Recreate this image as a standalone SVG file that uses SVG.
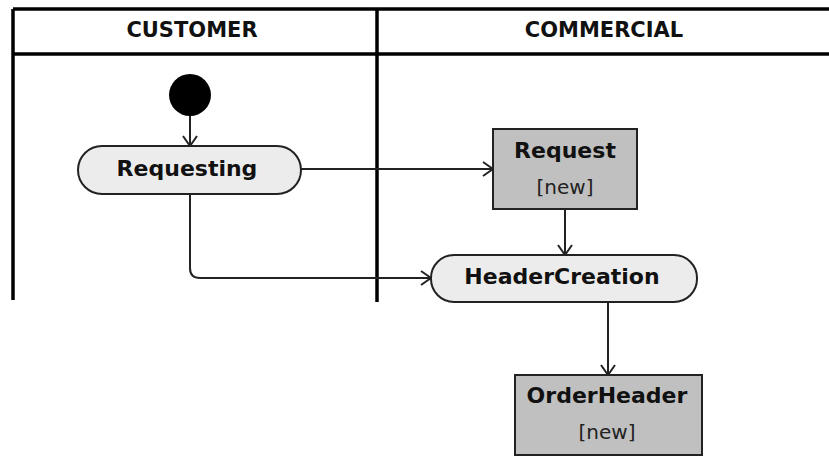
<svg xmlns="http://www.w3.org/2000/svg" width="829" height="472" viewBox="0 0 829 472">
<style>
.lane{fill:none;stroke:#000;stroke-width:3.5}
.hdr{font-family:"DejaVu Sans",Verdana,sans-serif;font-weight:bold;font-size:21px;fill:#111;text-anchor:middle}
.act{fill:#ececec;stroke:#222;stroke-width:2}
.obj{fill:#c0c0c0;stroke:#222;stroke-width:2}
.lbl{font-family:"DejaVu Sans",Verdana,sans-serif;font-weight:bold;font-size:22px;fill:#111;text-anchor:middle}
.st{font-family:"DejaVu Sans",Verdana,sans-serif;font-size:20px;fill:#222;text-anchor:middle}
.edge{fill:none;stroke:#222;stroke-width:2}
</style>
<defs>
<marker id="arr" viewBox="0 0 12 16" refX="11" refY="8" markerWidth="12" markerHeight="16" markerUnits="userSpaceOnUse" orient="auto">
<path d="M1,1 L11,8 L1,15" fill="none" stroke="#222" stroke-width="2"/>
</marker>
</defs>
<rect width="829" height="472" fill="#fff"/>
<g id="swimlanes">
<line class="lane" x1="13" y1="9" x2="829" y2="9"/>
<line class="lane" x1="13" y1="54" x2="829" y2="54"/>
<line class="lane" x1="13" y1="9" x2="13" y2="300"/>
<line class="lane" x1="377" y1="9" x2="377" y2="302"/>
<text class="hdr" x="192" y="37">CUSTOMER</text>
<text class="hdr" x="604" y="37">COMMERCIAL</text>
</g>
<g id="connectors">
<line class="edge" x1="190" y1="115" x2="190" y2="146" marker-end="url(#arr)"/>
<line class="edge" x1="301" y1="169" x2="493" y2="169" marker-end="url(#arr)"/>
<line class="edge" x1="565" y1="209" x2="565" y2="255" marker-end="url(#arr)"/>
<path class="edge" d="M190,194 L190,268 Q190,278 200,278 L431,278" marker-end="url(#arr)"/>
<line class="edge" x1="608" y1="302" x2="608" y2="375" marker-end="url(#arr)"/>
</g>
<g id="initial">
<circle cx="190" cy="95" r="21" fill="#000"/>
</g>
<g id="requesting">
<rect class="act" x="78" y="146" width="223" height="48" rx="24"/>
<text class="lbl" x="187" y="176">Requesting</text>
</g>
<g id="request">
<rect class="obj" x="493" y="129" width="144" height="80"/>
<text class="lbl" x="565" y="158">Request</text>
<text class="st" x="565" y="194">[new]</text>
</g>
<g id="headercreation">
<rect class="act" x="431" y="255" width="266" height="47" rx="23"/>
<text class="lbl" x="562" y="284">HeaderCreation</text>
</g>
<g id="orderheader">
<rect class="obj" x="515" y="375" width="187" height="80"/>
<text class="lbl" x="607" y="403">OrderHeader</text>
<text class="st" x="607" y="439">[new]</text>
</g>
</svg>
